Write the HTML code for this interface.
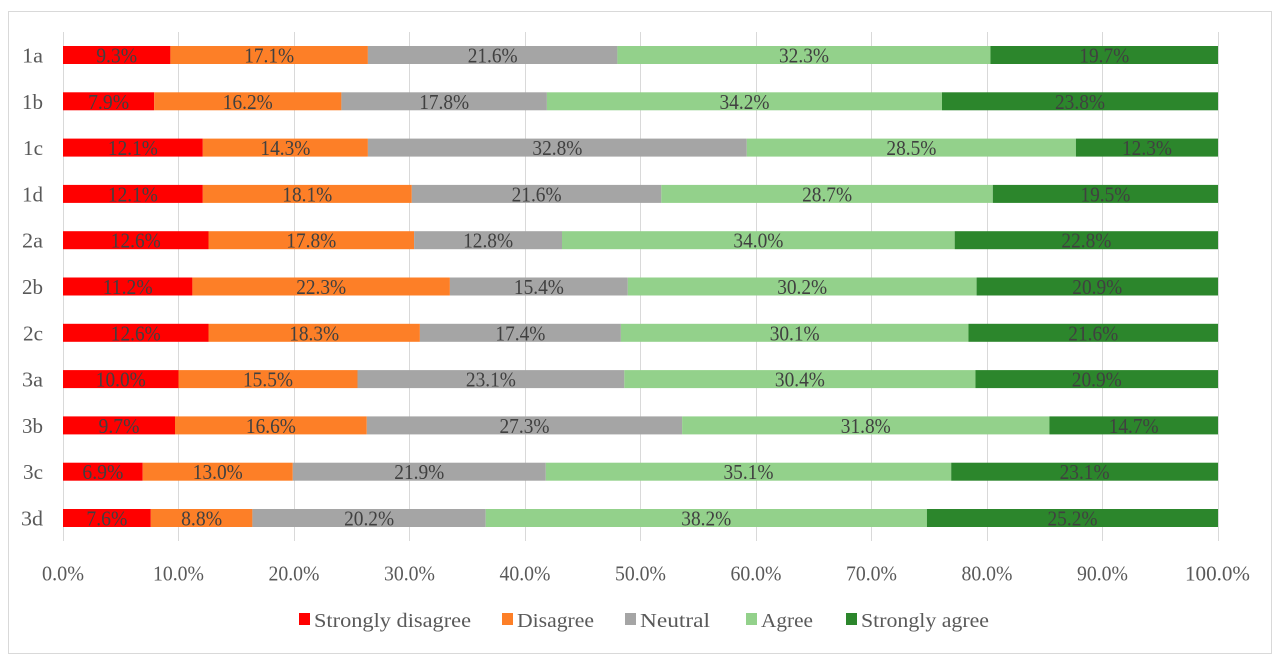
<!DOCTYPE html>
<html><head><meta charset="utf-8"><style>
html,body{margin:0;padding:0;background:#fff;}
svg{display:block;}
text{font-family:"Liberation Serif",serif;}
.dl{font-size:21px;fill:#404040;text-anchor:middle;}
.tk{font-size:21px;fill:#595959;text-anchor:middle;}
.yl{font-size:21px;fill:#595959;text-anchor:end;}
.lg{font-size:20px;fill:#595959;}
</style></head><body>
<svg width="1280" height="664" viewBox="0 0 1280 664" xmlns="http://www.w3.org/2000/svg">
<rect x="0" y="0" width="1280" height="664" fill="#fff"/>
<rect x="8.5" y="11.5" width="1263" height="642" fill="#fff" stroke="#d9d9d9" stroke-width="1"/>
<g stroke="#d9d9d9" stroke-width="1">
<line x1="63.5" y1="32" x2="63.5" y2="541"/>
<line x1="178.5" y1="32" x2="178.5" y2="541"/>
<line x1="294.5" y1="32" x2="294.5" y2="541"/>
<line x1="409.5" y1="32" x2="409.5" y2="541"/>
<line x1="525.5" y1="32" x2="525.5" y2="541"/>
<line x1="640.5" y1="32" x2="640.5" y2="541"/>
<line x1="756.5" y1="32" x2="756.5" y2="541"/>
<line x1="871.5" y1="32" x2="871.5" y2="541"/>
<line x1="987.5" y1="32" x2="987.5" y2="541"/>
<line x1="1102.5" y1="32" x2="1102.5" y2="541"/>
<line x1="1218.5" y1="32" x2="1218.5" y2="541"/>
</g>

<!-- 1a c=55 -->
<g>
<rect x="63" y="46" width="107.4" height="18" fill="#ff0000"/>
<rect x="170.4" y="46" width="197.5" height="18" fill="#fd7f27"/>
<rect x="367.9" y="46" width="249.5" height="18" fill="#a5a5a5"/>
<rect x="617.4" y="46" width="373.1" height="18" fill="#93d18b"/>
<rect x="990.5" y="46" width="227.5" height="18" fill="#2c862c"/>
<text class="dl" x="116.7" y="62.5" textLength="41" lengthAdjust="spacingAndGlyphs">9.3%</text>
<text class="dl" x="269.2" y="62.5" textLength="50" lengthAdjust="spacingAndGlyphs">17.1%</text>
<text class="dl" x="492.7" y="62.5" textLength="50" lengthAdjust="spacingAndGlyphs">21.6%</text>
<text class="dl" x="804.0" y="62.5" textLength="50" lengthAdjust="spacingAndGlyphs">32.3%</text>
<text class="dl" x="1104.3" y="62.5" textLength="50" lengthAdjust="spacingAndGlyphs">19.7%</text>
<text class="yl" x="43" y="62.5" textLength="21" lengthAdjust="spacingAndGlyphs">1a</text>
</g>
<!-- 1b c=101.3 -->
<g>
<rect x="63" y="92.3" width="91.2" height="18" fill="#ff0000"/>
<rect x="154.2" y="92.3" width="187.2" height="18" fill="#fd7f27"/>
<rect x="341.4" y="92.3" width="205.5" height="18" fill="#a5a5a5"/>
<rect x="546.9" y="92.3" width="395.1" height="18" fill="#93d18b"/>
<rect x="942.0" y="92.3" width="276" height="18" fill="#2c862c"/>
<text class="dl" x="108.6" y="108.8" textLength="41" lengthAdjust="spacingAndGlyphs">7.9%</text>
<text class="dl" x="247.8" y="108.8" textLength="50" lengthAdjust="spacingAndGlyphs">16.2%</text>
<text class="dl" x="444.2" y="108.8" textLength="50" lengthAdjust="spacingAndGlyphs">17.8%</text>
<text class="dl" x="744.5" y="108.8" textLength="50" lengthAdjust="spacingAndGlyphs">34.2%</text>
<text class="dl" x="1080.0" y="108.8" textLength="50" lengthAdjust="spacingAndGlyphs">23.8%</text>
<text class="yl" x="43" y="108.8" textLength="21" lengthAdjust="spacingAndGlyphs">1b</text>
</g>
<!-- 1c c=147.6 -->
<g>
<rect x="63" y="138.6" width="139.8" height="18" fill="#ff0000"/>
<rect x="202.8" y="138.6" width="165.1" height="18" fill="#fd7f27"/>
<rect x="367.9" y="138.6" width="378.9" height="18" fill="#a5a5a5"/>
<rect x="746.8" y="138.6" width="329.1" height="18" fill="#93d18b"/>
<rect x="1075.9" y="138.6" width="142.1" height="18" fill="#2c862c"/>
<text class="dl" x="132.9" y="155.1" textLength="50" lengthAdjust="spacingAndGlyphs">12.1%</text>
<text class="dl" x="285.4" y="155.1" textLength="50" lengthAdjust="spacingAndGlyphs">14.3%</text>
<text class="dl" x="557.4" y="155.1" textLength="50" lengthAdjust="spacingAndGlyphs">32.8%</text>
<text class="dl" x="911.4" y="155.1" textLength="50" lengthAdjust="spacingAndGlyphs">28.5%</text>
<text class="dl" x="1147.0" y="155.1" textLength="50" lengthAdjust="spacingAndGlyphs">12.3%</text>
<text class="yl" x="43" y="155.1" textLength="20" lengthAdjust="spacingAndGlyphs">1c</text>
</g>
<!-- 1d c=193.9 -->
<g>
<rect x="63" y="184.9" width="139.8" height="18" fill="#ff0000"/>
<rect x="202.8" y="184.9" width="209" height="18" fill="#fd7f27"/>
<rect x="411.8" y="184.9" width="249.5" height="18" fill="#a5a5a5"/>
<rect x="661.3" y="184.9" width="331.5" height="18" fill="#93d18b"/>
<rect x="992.8" y="184.9" width="225.2" height="18" fill="#2c862c"/>
<text class="dl" x="132.9" y="201.4" textLength="50" lengthAdjust="spacingAndGlyphs">12.1%</text>
<text class="dl" x="307.3" y="201.4" textLength="50" lengthAdjust="spacingAndGlyphs">18.1%</text>
<text class="dl" x="536.6" y="201.4" textLength="50" lengthAdjust="spacingAndGlyphs">21.6%</text>
<text class="dl" x="827.1" y="201.4" textLength="50" lengthAdjust="spacingAndGlyphs">28.7%</text>
<text class="dl" x="1105.4" y="201.4" textLength="50" lengthAdjust="spacingAndGlyphs">19.5%</text>
<text class="yl" x="43" y="201.4" textLength="21" lengthAdjust="spacingAndGlyphs">1d</text>
</g>
<!-- 2a c=240.2 -->
<g>
<rect x="63" y="231.2" width="145.5" height="18" fill="#ff0000"/>
<rect x="208.5" y="231.2" width="205.6" height="18" fill="#fd7f27"/>
<rect x="414.1" y="231.2" width="147.9" height="18" fill="#a5a5a5"/>
<rect x="562.0" y="231.2" width="392.7" height="18" fill="#93d18b"/>
<rect x="954.7" y="231.2" width="263.3" height="18" fill="#2c862c"/>
<text class="dl" x="135.8" y="247.7" textLength="50" lengthAdjust="spacingAndGlyphs">12.6%</text>
<text class="dl" x="311.3" y="247.7" textLength="50" lengthAdjust="spacingAndGlyphs">17.8%</text>
<text class="dl" x="488.1" y="247.7" textLength="50" lengthAdjust="spacingAndGlyphs">12.8%</text>
<text class="dl" x="758.4" y="247.7" textLength="50" lengthAdjust="spacingAndGlyphs">34.0%</text>
<text class="dl" x="1086.4" y="247.7" textLength="50" lengthAdjust="spacingAndGlyphs">22.8%</text>
<text class="yl" x="43" y="247.7" textLength="21" lengthAdjust="spacingAndGlyphs">2a</text>
</g>
<!-- 2b c=286.5 -->
<g>
<rect x="63" y="277.5" width="129.4" height="18" fill="#ff0000"/>
<rect x="192.4" y="277.5" width="257.5" height="18" fill="#fd7f27"/>
<rect x="449.9" y="277.5" width="177.9" height="18" fill="#a5a5a5"/>
<rect x="627.8" y="277.5" width="348.8" height="18" fill="#93d18b"/>
<rect x="976.6" y="277.5" width="241.4" height="18" fill="#2c862c"/>
<text class="dl" x="127.7" y="294" textLength="50" lengthAdjust="spacingAndGlyphs">11.2%</text>
<text class="dl" x="321.2" y="294" textLength="50" lengthAdjust="spacingAndGlyphs">22.3%</text>
<text class="dl" x="538.9" y="294" textLength="50" lengthAdjust="spacingAndGlyphs">15.4%</text>
<text class="dl" x="802.2" y="294" textLength="50" lengthAdjust="spacingAndGlyphs">30.2%</text>
<text class="dl" x="1097.3" y="294" textLength="50" lengthAdjust="spacingAndGlyphs">20.9%</text>
<text class="yl" x="43" y="294" textLength="21" lengthAdjust="spacingAndGlyphs">2b</text>
</g>
<!-- 2c c=332.8 -->
<g>
<rect x="63" y="323.8" width="145.5" height="18" fill="#ff0000"/>
<rect x="208.5" y="323.8" width="211.4" height="18" fill="#fd7f27"/>
<rect x="419.9" y="323.8" width="201" height="18" fill="#a5a5a5"/>
<rect x="620.9" y="323.8" width="347.6" height="18" fill="#93d18b"/>
<rect x="968.5" y="323.8" width="249.5" height="18" fill="#2c862c"/>
<text class="dl" x="135.8" y="340.3" textLength="50" lengthAdjust="spacingAndGlyphs">12.6%</text>
<text class="dl" x="314.2" y="340.3" textLength="50" lengthAdjust="spacingAndGlyphs">18.3%</text>
<text class="dl" x="520.4" y="340.3" textLength="50" lengthAdjust="spacingAndGlyphs">17.4%</text>
<text class="dl" x="794.7" y="340.3" textLength="50" lengthAdjust="spacingAndGlyphs">30.1%</text>
<text class="dl" x="1093.3" y="340.3" textLength="50" lengthAdjust="spacingAndGlyphs">21.6%</text>
<text class="yl" x="43" y="340.3" textLength="20" lengthAdjust="spacingAndGlyphs">2c</text>
</g>
<!-- 3a c=379.1 -->
<g>
<rect x="63" y="370.1" width="115.5" height="18" fill="#ff0000"/>
<rect x="178.5" y="370.1" width="179" height="18" fill="#fd7f27"/>
<rect x="357.5" y="370.1" width="266.8" height="18" fill="#a5a5a5"/>
<rect x="624.3" y="370.1" width="351.2" height="18" fill="#93d18b"/>
<rect x="975.5" y="370.1" width="242.5" height="18" fill="#2c862c"/>
<text class="dl" x="120.8" y="386.6" textLength="50" lengthAdjust="spacingAndGlyphs">10.0%</text>
<text class="dl" x="268.0" y="386.6" textLength="50" lengthAdjust="spacingAndGlyphs">15.5%</text>
<text class="dl" x="490.9" y="386.6" textLength="50" lengthAdjust="spacingAndGlyphs">23.1%</text>
<text class="dl" x="799.9" y="386.6" textLength="50" lengthAdjust="spacingAndGlyphs">30.4%</text>
<text class="dl" x="1096.8" y="386.6" textLength="50" lengthAdjust="spacingAndGlyphs">20.9%</text>
<text class="yl" x="43" y="386.6" textLength="21" lengthAdjust="spacingAndGlyphs">3a</text>
</g>
<!-- 3b c=425.4 -->
<g>
<rect x="63" y="416.4" width="112" height="18" fill="#ff0000"/>
<rect x="175.0" y="416.4" width="191.8" height="18" fill="#fd7f27"/>
<rect x="366.8" y="416.4" width="315.3" height="18" fill="#a5a5a5"/>
<rect x="682.1" y="416.4" width="367.3" height="18" fill="#93d18b"/>
<rect x="1049.4" y="416.4" width="168.6" height="18" fill="#2c862c"/>
<text class="dl" x="119.0" y="432.9" textLength="41" lengthAdjust="spacingAndGlyphs">9.7%</text>
<text class="dl" x="270.9" y="432.9" textLength="50" lengthAdjust="spacingAndGlyphs">16.6%</text>
<text class="dl" x="524.5" y="432.9" textLength="50" lengthAdjust="spacingAndGlyphs">27.3%</text>
<text class="dl" x="865.8" y="432.9" textLength="50" lengthAdjust="spacingAndGlyphs">31.8%</text>
<text class="dl" x="1133.7" y="432.9" textLength="50" lengthAdjust="spacingAndGlyphs">14.7%</text>
<text class="yl" x="43" y="432.9" textLength="21" lengthAdjust="spacingAndGlyphs">3b</text>
</g>
<!-- 3c c=471.7 -->
<g>
<rect x="63" y="462.7" width="79.7" height="18" fill="#ff0000"/>
<rect x="142.7" y="462.7" width="150.1" height="18" fill="#fd7f27"/>
<rect x="292.8" y="462.7" width="253" height="18" fill="#a5a5a5"/>
<rect x="545.8" y="462.7" width="405.4" height="18" fill="#93d18b"/>
<rect x="951.2" y="462.7" width="266.8" height="18" fill="#2c862c"/>
<text class="dl" x="102.9" y="479.2" textLength="41" lengthAdjust="spacingAndGlyphs">6.9%</text>
<text class="dl" x="217.8" y="479.2" textLength="50" lengthAdjust="spacingAndGlyphs">13.0%</text>
<text class="dl" x="419.3" y="479.2" textLength="50" lengthAdjust="spacingAndGlyphs">21.9%</text>
<text class="dl" x="748.5" y="479.2" textLength="50" lengthAdjust="spacingAndGlyphs">35.1%</text>
<text class="dl" x="1084.6" y="479.2" textLength="50" lengthAdjust="spacingAndGlyphs">23.1%</text>
<text class="yl" x="43" y="479.2" textLength="20" lengthAdjust="spacingAndGlyphs">3c</text>
</g>
<!-- 3d c=518 -->
<g>
<rect x="63" y="509" width="87.8" height="18" fill="#ff0000"/>
<rect x="150.8" y="509" width="101.6" height="18" fill="#fd7f27"/>
<rect x="252.4" y="509" width="233.3" height="18" fill="#a5a5a5"/>
<rect x="485.7" y="509" width="441.2" height="18" fill="#93d18b"/>
<rect x="926.9" y="509" width="291.1" height="18" fill="#2c862c"/>
<text class="dl" x="106.9" y="525.5" textLength="41" lengthAdjust="spacingAndGlyphs">7.6%</text>
<text class="dl" x="201.6" y="525.5" textLength="41" lengthAdjust="spacingAndGlyphs">8.8%</text>
<text class="dl" x="369.1" y="525.5" textLength="50" lengthAdjust="spacingAndGlyphs">20.2%</text>
<text class="dl" x="706.3" y="525.5" textLength="50" lengthAdjust="spacingAndGlyphs">38.2%</text>
<text class="dl" x="1072.5" y="525.5" textLength="50" lengthAdjust="spacingAndGlyphs">25.2%</text>
<text class="yl" x="43" y="525.5" textLength="22" lengthAdjust="spacingAndGlyphs">3d</text>
</g>

<!-- x tick labels -->
<g>
<text class="tk" x="63" y="580.5" textLength="42" lengthAdjust="spacingAndGlyphs">0.0%</text>
<text class="tk" x="178.5" y="580.5" textLength="51" lengthAdjust="spacingAndGlyphs">10.0%</text>
<text class="tk" x="294" y="580.5" textLength="51" lengthAdjust="spacingAndGlyphs">20.0%</text>
<text class="tk" x="409.5" y="580.5" textLength="51" lengthAdjust="spacingAndGlyphs">30.0%</text>
<text class="tk" x="525" y="580.5" textLength="51" lengthAdjust="spacingAndGlyphs">40.0%</text>
<text class="tk" x="640.5" y="580.5" textLength="51" lengthAdjust="spacingAndGlyphs">50.0%</text>
<text class="tk" x="756" y="580.5" textLength="51" lengthAdjust="spacingAndGlyphs">60.0%</text>
<text class="tk" x="871.5" y="580.5" textLength="51" lengthAdjust="spacingAndGlyphs">70.0%</text>
<text class="tk" x="987" y="580.5" textLength="51" lengthAdjust="spacingAndGlyphs">80.0%</text>
<text class="tk" x="1102.5" y="580.5" textLength="51" lengthAdjust="spacingAndGlyphs">90.0%</text>
<text class="tk" x="1217.5" y="580.5" textLength="65" lengthAdjust="spacingAndGlyphs">100.0%</text>
</g>

<!-- legend -->
<g>
<rect x="299" y="613" width="11" height="12" fill="#ff0000"/>
<text class="lg" x="314" y="627" textLength="157" lengthAdjust="spacingAndGlyphs">Strongly disagree</text>
<rect x="502" y="613" width="11" height="12" fill="#fd7f27"/>
<text class="lg" x="517" y="627" textLength="77" lengthAdjust="spacingAndGlyphs">Disagree</text>
<rect x="625" y="613" width="11" height="12" fill="#a5a5a5"/>
<text class="lg" x="640" y="627" textLength="70" lengthAdjust="spacingAndGlyphs">Neutral</text>
<rect x="746" y="613" width="11" height="12" fill="#93d18b"/>
<text class="lg" x="761" y="627" textLength="52" lengthAdjust="spacingAndGlyphs">Agree</text>
<rect x="846" y="613" width="11" height="12" fill="#2c862c"/>
<text class="lg" x="861" y="627" textLength="128" lengthAdjust="spacingAndGlyphs">Strongly agree</text>
</g>
</svg>
</body></html>
